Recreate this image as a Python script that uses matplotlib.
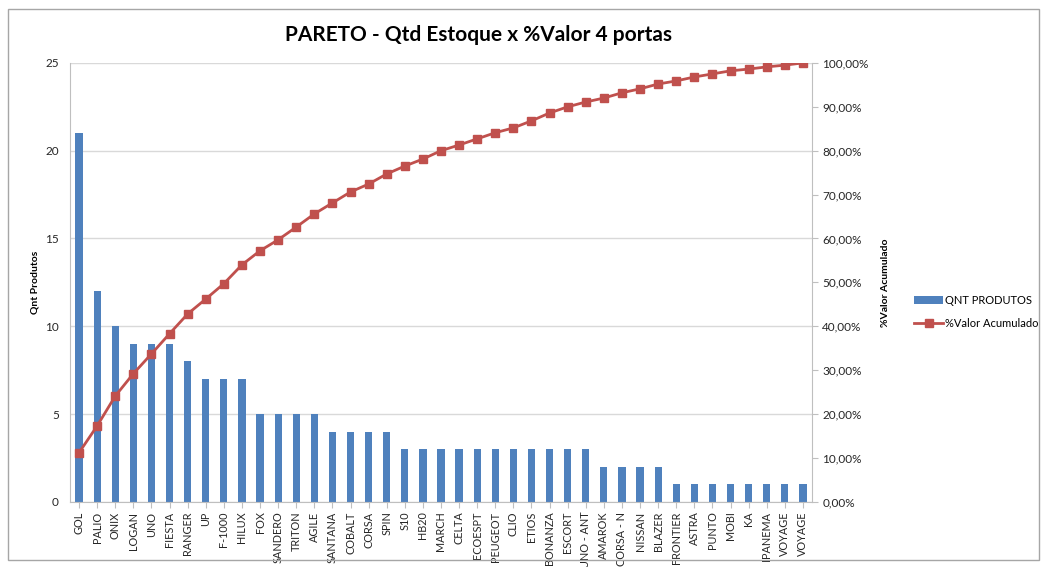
import matplotlib
matplotlib.use('Agg')
import matplotlib.pyplot as plt
from matplotlib.ticker import FuncFormatter

# Dados do gráfico de Pareto
modelos = ['GOL', 'PALIO', 'ONIX', 'LOGAN', 'UNO', 'FIESTA', 'RANGER', 'UP', 'F-1000', 'HILUX',
           'FOX', 'SANDERO', 'TRITON', 'AGILE', 'SANTANA', 'COBALT', 'CORSA', 'SPIN', 'S10', 'HB20',
           'MARCH', 'CELTA', 'ECOESPT', 'PEUGEOT', 'CLIO', 'ETIOS', 'BONANZA', 'ESCORT', 'UNO - ANT',
           'AMAROK', 'CORSA - N', 'NISSAN', 'BLAZER', 'FRONTIER', 'ASTRA', 'PUNTO', 'MOBI', 'KA',
           'IPANEMA', 'VOYAGE', 'VOYAGE']
qnt_produtos = [21, 12, 10, 9, 9, 9, 8, 7, 7, 7,
                5, 5, 5, 5, 4, 4, 4, 4, 3, 3,
                3, 3, 3, 3, 3, 3, 3, 3, 3,
                2, 2, 2, 2, 1, 1, 1, 1, 1,
                1, 1, 1]
valor_acumulado = [11.2, 17.3, 24.1, 29.2, 33.7, 38.3, 42.8, 46.2, 49.7, 54.0,
                   57.2, 59.7, 62.6, 65.6, 68.1, 70.6, 72.4, 74.7, 76.5, 78.1,
                   80.0, 81.3, 82.7, 84.1, 85.2, 86.8, 88.6, 90.0, 91.1,
                   92.0, 93.2, 94.1, 95.2, 95.9, 96.8, 97.5, 98.2, 98.6,
                   99.1, 99.5, 100.0]

azul = '#4F81BD'
vermelho = '#C0504D'

plt.rcParams['font.family'] = ['Lato', 'DejaVu Sans']

fig = plt.figure(figsize=(10.45, 5.67), dpi=100)
fig.patches.append(plt.Rectangle((0.008, 0.012), 0.986, 0.972, transform=fig.transFigure,
                                 fill=False, edgecolor='#A6A6A6', linewidth=1))
ax = fig.add_axes([0.067, 0.115, 0.710, 0.774])
x = list(range(len(modelos)))

barras = ax.bar(x, qnt_produtos, width=0.4, color=azul, zorder=2, label='QNT PRODUTOS')
ax.set_xlim(-0.5, len(modelos) - 0.5)
ax.set_ylim(0, 25)
ax.set_yticks([0, 5, 10, 15, 20, 25])
ax.set_xticks(x)
ax.set_xticklabels(modelos, rotation=90, fontsize=7.8, color='#262626')
ax.tick_params(axis='y', labelsize=8.5, colors='#262626', length=0, pad=8)
ax.tick_params(axis='x', length=4, color='#BFBFBF', pad=3)
ax.grid(axis='y', color='#D9D9D9', linewidth=1, zorder=0)
for s in ['top', 'right']:
    ax.spines[s].set_visible(False)
ax.spines['left'].set_color('#BFBFBF')
ax.spines['bottom'].set_color('#BFBFBF')
ax.set_ylabel('Qnt Produtos', fontsize=7.5, fontweight='bold', labelpad=4)

ax2 = ax.twinx()
linha, = ax2.plot(x, valor_acumulado, color=vermelho, marker='s', markersize=5.5,
                  linewidth=2, label='%Valor Acumulado', zorder=3)
ax2.set_ylim(0, 100)
ax2.set_yticks(range(0, 101, 10))
ax2.yaxis.set_major_formatter(FuncFormatter(lambda v, p: f'{v:.2f}%'.replace('.', ',')))
ax2.tick_params(axis='y', labelsize=8.5, colors='#262626', length=4, color='#BFBFBF')
for s in ['top', 'left', 'bottom']:
    ax2.spines[s].set_visible(False)
ax2.spines['right'].set_color('#BFBFBF')
ax2.set_ylabel('%Valor Acumulado', fontsize=7.5, fontweight='bold', labelpad=9)

fig.text(0.458, 0.938, 'PARETO - Qtd Estoque x %Valor 4 portas', ha='center', va='center',
         fontsize=15, fontweight='bold')

fig.legend([barras, linha], ['QNT PRODUTOS', '%Valor Acumulado'], loc='center left',
           bbox_to_anchor=(0.875, 0.45), frameon=False, fontsize=8, labelspacing=1.1,
           handlelength=2.6, handletextpad=0.2, borderaxespad=0, borderpad=0)

fig.savefig('out.png', dpi=100)
